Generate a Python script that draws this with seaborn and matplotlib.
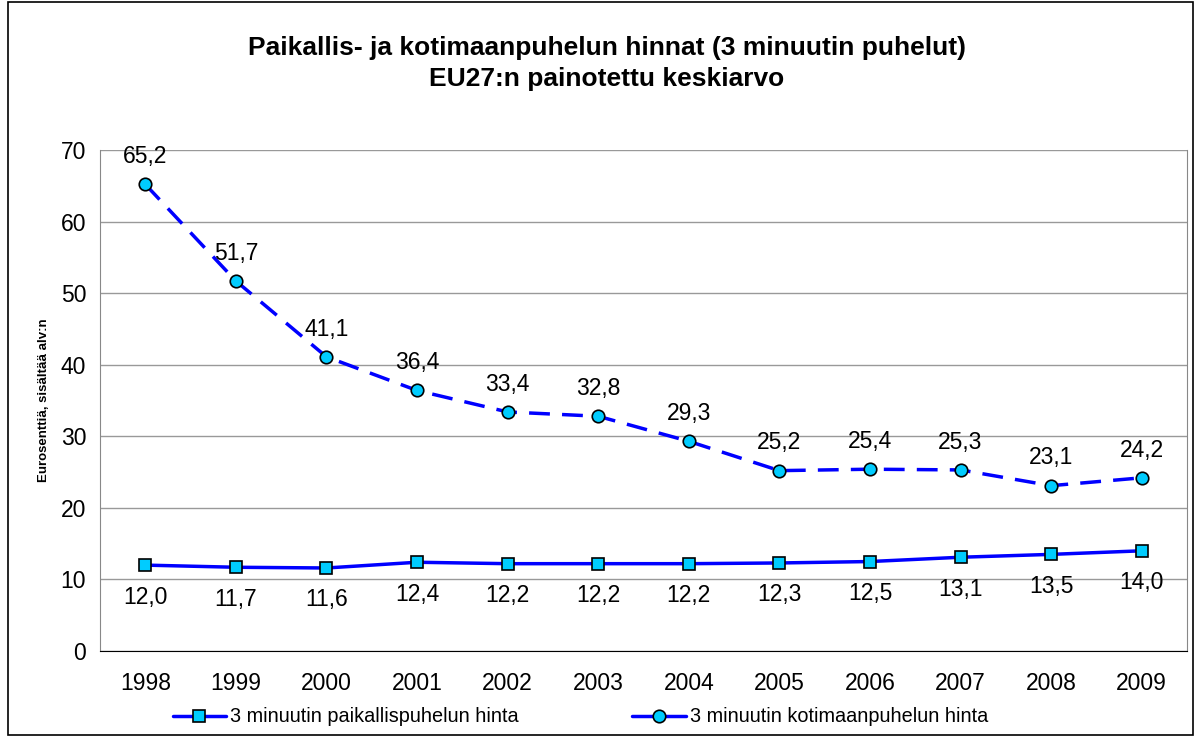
import numpy as np
import pandas as pd
import seaborn as sns
import matplotlib.pyplot as plt
from matplotlib.patches import Rectangle
from matplotlib.lines import Line2D

years = ["1998", "1999", "2000", "2001", "2002", "2003", "2004", "2005", "2006", "2007", "2008", "2009"]
paikallis = [12.0, 11.7, 11.6, 12.4, 12.2, 12.2, 12.2, 12.3, 12.5, 13.1, 13.5, 14.0]
kotimaan = [65.2, 51.7, 41.1, 36.4, 33.4, 32.8, 29.3, 25.2, 25.4, 25.3, 23.1, 24.2]
lbl_paik = "3 minuutin paikallispuhelun hinta"
lbl_koti = "3 minuutin kotimaanpuhelun hinta"

sns.set_style("white")
plt.rcParams["font.family"] = ["Liberation Sans", "DejaVu Sans"]
plt.rcParams["text.color"] = "black"
plt.rcParams["axes.labelcolor"] = "black"
plt.rcParams["xtick.color"] = "black"
plt.rcParams["ytick.color"] = "black"

df = pd.DataFrame({"pos": np.arange(len(years)), "paik": paikallis, "koti": kotimaan})

fig = plt.figure(figsize=(11.94, 7.36), dpi=100)
ax = fig.add_axes([100 / 1194, 1 - 651 / 736, 1087 / 1194, 501 / 736])

mk = dict(markersize=9, markerfacecolor="#00ccff", markeredgecolor="black", markeredgewidth=1.2)
sns.lineplot(data=df, x="pos", y="paik", ax=ax, color="#0000ff", lw=2.5, marker="s", **mk)
sns.lineplot(data=df, x="pos", y="koti", ax=ax, color="#0000ff", lw=2.5, marker="o", **mk)
ax.lines[1].set_linestyle((0, (6, 3.5)))

# datalabels: alempi sarja alle, ylempi yläpuolelle
for i, v in enumerate(paikallis):
    ax.annotate(f"{v:.1f}".replace(".", ","), (i, v), xytext=(0, -23),
                textcoords="offset points", ha="center", va="center", fontsize=16.5)
for i, v in enumerate(kotimaan):
    ax.annotate(f"{v:.1f}".replace(".", ","), (i, v), xytext=(0, 20),
                textcoords="offset points", ha="center", va="center", fontsize=16.5)

ax.set_xlim(-0.5, len(years) - 0.5)
ax.set_ylim(0, 70)
ax.set_yticks(range(0, 71, 10))
ax.yaxis.grid(True, color="#999999", lw=1)
ax.set_xticks(np.arange(len(years)))
ax.set_xticklabels(years, fontsize=16.5)
ax.set_xticks(np.arange(-0.5, len(years)), minor=True)
ax.tick_params(axis="x", which="major", length=0, pad=15)
ax.tick_params(axis="x", which="minor", length=6, color="black", direction="out")
ax.tick_params(axis="y", length=6, color="#888888", direction="out", labelsize=16.5, pad=4)
ax.set_xlabel("")
ax.set_ylabel("Eurosenttiä, sisältää alv:n", fontsize=9.5, fontweight="bold", labelpad=8)
for s in ["left", "right"]:
    ax.spines[s].set_color("#888888")
ax.spines["top"].set_visible(False)
ax.spines["bottom"].set_color("black")

h = [Line2D([], [], color="#0000ff", lw=2.5, marker="s", **mk),
     Line2D([], [], color="#0000ff", lw=2.5, marker="o", **mk)]
fig.legend(h, [lbl_paik, lbl_koti], loc="center", bbox_to_anchor=(0.486, 1 - 717 / 736), ncol=2,
           frameon=False, fontsize=14.3, columnspacing=5.7, handlelength=2.7, handletextpad=0.2)

fig.text(0.508, 1 - 48 / 736, "Paikallis- ja kotimaanpuhelun hinnat (3 minuutin puhelut)",
         ha="center", va="center", fontsize=19, fontweight="bold")
fig.text(0.508, 1 - 79 / 736, "EU27:n painotettu keskiarvo",
         ha="center", va="center", fontsize=19, fontweight="bold")

fig.patches.append(Rectangle((8 / 1194, 0.002), 1 - 9 / 1194, 0.995, transform=fig.transFigure,
                             fill=False, edgecolor="black", lw=1.2))

fig.savefig("out.png", dpi=100)
